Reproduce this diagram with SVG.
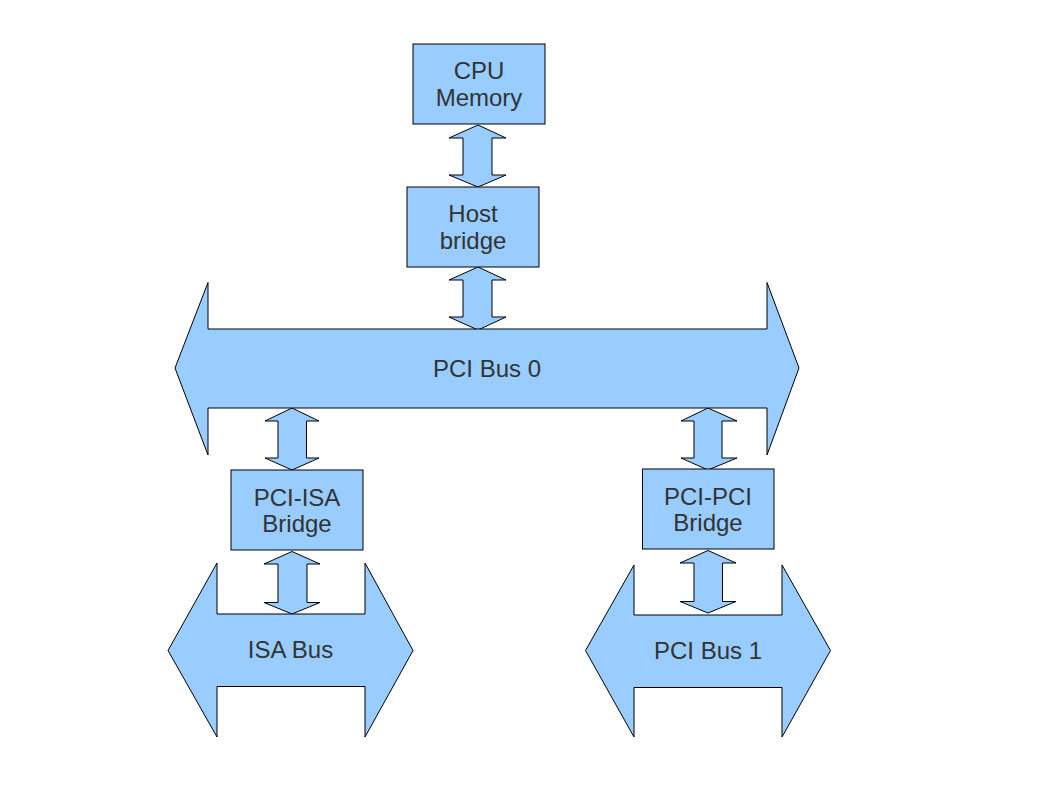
<svg xmlns="http://www.w3.org/2000/svg" width="1058" height="794" viewBox="0 0 1058 794">
<style>
.s{fill:#99ccff;stroke:#000;stroke-width:1;stroke-linejoin:miter}
.t{font-family:"Liberation Sans",Arial,sans-serif;font-size:24px;fill:#333;text-anchor:middle}
</style>
<rect width="1058" height="794" fill="#fff"/>
<g id="connectors">
<path class="s" d="M478,125 L506,138 L492,138 L492,175 L506,175 L478,187 L449,175 L463,175 L463,138 L449,138 Z"/>
<path class="s" d="M478,267 L506,280 L492,280 L492,317 L506,317 L478,330 L449,317 L463,317 L463,280 L449,280 Z"/>
<path class="s" d="M292,408 L319,421 L306.5,421 L306.5,458 L319,458 L292,470 L265,458 L278,458 L278,421 L265,421 Z"/>
<path class="s" d="M708,408 L737,421 L722,421 L722,458 L737,458 L708,470 L681,458 L694,458 L694,421 L681,421 Z"/>
<path class="s" d="M292,551.5 L320,564 L307,564 L307,602.5 L320,602.5 L292,614 L264,602.5 L278,602.5 L278,564 L264,564 Z"/>
<path class="s" d="M708,550.5 L736,563 L722.5,563 L722.5,601.5 L736,601.5 L708,613 L680,601.5 L694,601.5 L694,563 L680,563 Z"/>
</g>
<g id="cpu">
<rect class="s" x="413" y="44" width="132" height="80"/>
<text class="t" x="479" y="79">CPU</text>
<text class="t" x="479" y="106">Memory</text>
</g>
<g id="host">
<rect class="s" x="407" y="187" width="132" height="80"/>
<text class="t" x="473" y="222">Host</text>
<text class="t" x="473" y="249">bridge</text>
</g>
<g id="pcibus0">
<path class="s" d="M175,368 L208,282.5 L208,329 L767,329 L767,282.5 L799,368 L767,455 L767,408 L208,408 L208,455 Z"/>
<text class="t" x="487" y="377">PCI Bus 0</text>
</g>
<g id="pciisa">
<rect class="s" x="231" y="470" width="132" height="80"/>
<text class="t" x="297" y="506">PCI-ISA</text>
<text class="t" x="297" y="532">Bridge</text>
</g>
<g id="pcipci">
<rect class="s" x="642.5" y="469" width="131.5" height="80"/>
<text class="t" x="708" y="505">PCI-PCI</text>
<text class="t" x="708" y="531">Bridge</text>
</g>
<g id="isabus">
<path class="s" d="M168,650.5 L217,563 L217,614 L365,614 L365,563 L413,650.5 L365,737 L365,686.5 L217,686.5 L217,737 Z"/>
<text class="t" x="290.5" y="658">ISA Bus</text>
</g>
<g id="pcibus1">
<path class="s" d="M585.5,650.5 L634,565 L634,615 L782,615 L782,565 L830.5,650.5 L782,737 L782,687.5 L634,687.5 L634,737 Z"/>
<text class="t" x="708" y="659">PCI Bus 1</text>
</g>
</svg>
